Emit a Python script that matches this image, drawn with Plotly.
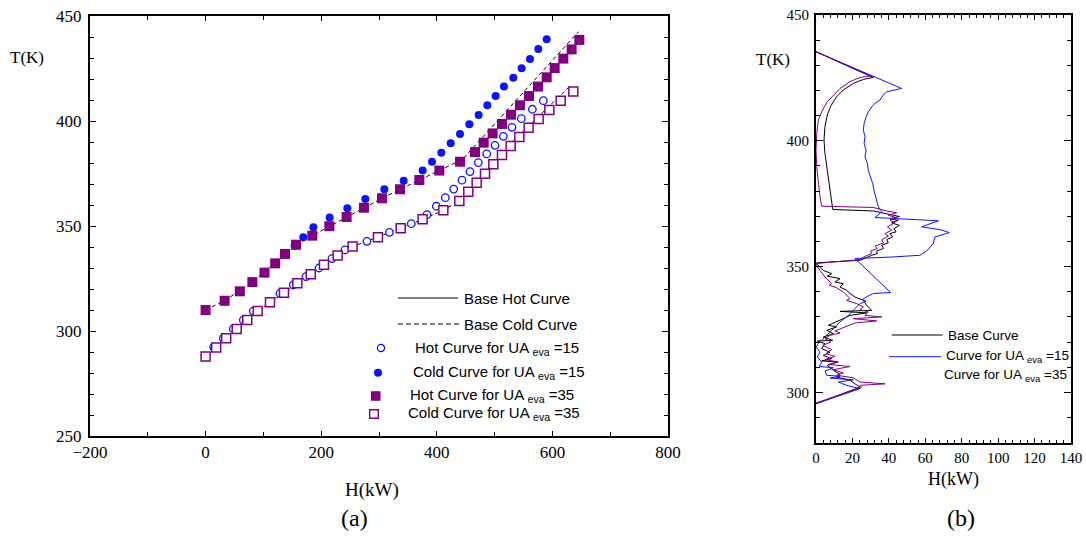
import plotly.graph_objects as go

# ---------------- data : panel (a) ----------------
hot15_H = [0, 14, 30.6, 47.9, 65.2, 82.5, 111.4, 128.7, 151.7, 173.7, 196.2, 218.7, 241.2, 279.2, 317.9,
           355.9, 383.0, 399.2, 414.7, 429.2, 443.6, 457.4, 471.8, 486.3, 500.7, 515.1, 530.1, 546.2, 565.3, 584.3]
hot15_T = [288, 292.3, 296.5, 301.0, 305.2, 309.5, 313.9, 317.9, 321.9, 325.9, 330.0, 334.5, 338.6, 342.7, 347.0,
           351.1, 355.4, 359.4, 363.5, 367.6, 371.8, 375.9, 380.2, 384.3, 388.4, 392.7, 397.0, 401.1, 405.6, 409.7]

cold15_H = [0, 33, 59, 81, 102, 120, 137, 154, 169.1, 186.4, 214.6, 245.2, 276.3, 309.2, 342.7, 375.5,
            391.7, 407.8, 424.0, 440.1, 456.3, 472.4, 487.4, 501.8, 516.2, 532.4, 546.8, 561.2, 575.6, 590.1]
cold15_T = [309.6, 314.1, 318.6, 323.0, 327.5, 331.9, 336.3, 340.6, 344.6, 349.4, 354.1, 358.4, 362.9, 367.5, 371.6, 376.4,
            380.6, 384.9, 389.4, 393.8, 398.4, 402.9, 407.5, 411.9, 416.4, 420.6, 425.1, 429.5, 434.3, 438.9]

hot35_H = [0, 32.9, 59.2, 80.9, 101.9, 120.4, 137.4, 156.5, 184.6, 214.1, 244.0, 274.0, 305.2, 336.3, 369.8,
           404.4, 440.1, 466.1, 481.1, 496.6, 512.8, 528.4, 543.9, 559.5, 575.1, 590.1, 603.9, 618.9, 633.3, 646.6]
hot35_T = [310.0, 314.4, 318.9, 323.3, 327.8, 332.2, 336.7, 341.1, 345.4, 349.9, 354.3, 358.7, 363.2, 367.5, 371.9,
           376.4, 380.6, 385.2, 389.7, 394.1, 398.6, 403.0, 407.5, 411.9, 416.4, 420.8, 425.2, 429.7, 434.1, 438.6]

cold35_H = [0, 18.3, 35.6, 53.8, 72.1, 90.1, 111.4, 135.6, 158.7, 182.0, 204.8, 228.5, 254.4, 298.2, 337.5,
            375.5, 411.3, 439.0, 454.5, 469.0, 483.4, 497.8, 512.8, 527.8, 542.8, 558.9, 576.2, 594.7, 614.3, 636.2]
cold35_T = [287.8, 292.2, 296.5, 300.9, 305.2, 309.5, 313.7, 318.2, 322.7, 327.0, 331.5, 335.9, 340.2, 344.6, 348.9,
            353.2, 357.5, 361.9, 366.3, 370.6, 374.9, 379.4, 383.8, 388.1, 392.4, 396.8, 400.9, 405.2, 409.7, 414.1]

base_hot_H = [0, 32.9, 80.9, 137.4, 156.5, 184.6, 244.0, 305.2, 369.8, 404.4, 444.0, 475.0, 645.0]
base_hot_T = [310.0, 314.4, 323.3, 336.7, 341.1, 345.4, 354.3, 363.2, 371.9, 376.4, 381.6, 391.0, 442.5]

base_cold_H = [0, 18.3, 53.8, 90.1, 111.4, 135.6, 158.7, 182.0, 204.8, 228.5, 254.4, 298.2, 337.5, 375.5, 411.3, 439.0, 527.0, 629.3]
base_cold_T = [287.8, 292.2, 300.9, 309.5, 313.7, 318.2, 322.7, 327.0, 331.5, 335.9, 340.2, 344.6, 348.9, 353.2, 357.5, 361.9, 389.0, 416.4]

# ---------------- data : panel (b) ----------------
base_dH = [0, 31.5, 26.0, 20.5, 15.0, 11.3, 8.1, 6.2, 4.9, 4.4, 4.9, 5.9, 6.8, 8.1, 8.8, 9.2, 31.5, 38.8,
           45.8, 40.6, 45.2, 41.5, 45.8, 42.8, 43.9, 40.6, 42.1, 38.8, 39.7, 36.1, 37.0, 33.3, 33.7, 30.6, 27.8, 24.2,
           0.4, 1.8, 4.0, 8.6, 6.2, 13.2, 10.4, 15.0, 13.2, 16.8, 18.7, 21.4, 26.0, 27.8, 30.6, 13.2, 27.8, 18.7,
           15.0, 11.3, 6.8, 11.3, 5.9, 9.5, 4.0, 9.2, 0.7, 4.9, 3.1, 7.7, 4.0, 8.6, 3.1, 11.7, 6.2, 9.5, 13.2, 11.3,
           18.7, 21.4, 24.2, 0]
base_dT = [435.4, 425.2, 424.4, 422.8, 420.2, 417.5, 413.8, 410.2, 405.6, 400.3, 395.0, 389.7, 384.4, 379.0, 375.1, 372.7, 372.1, 371.1,
           369.9, 369.0, 368.4, 367.4, 366.4, 365.1, 363.8, 363.1, 361.8, 360.7, 359.4, 358.5, 357.2, 356.2, 355.2, 354.5, 353.6, 352.5,
           351.5, 349.9, 348.5, 347.2, 346.2, 345.2, 343.9, 343.2, 341.9, 340.6, 339.3, 337.9, 336.6, 334.6, 332.6, 332.2, 331.6, 330.6,
           329.3, 328.0, 326.7, 326.0, 324.7, 323.3, 322.0, 320.7, 320.4, 319.4, 317.4, 316.0, 314.7, 313.4, 312.5, 312.1, 310.7, 308.8, 307.2, 306.1,
           304.8, 303.4, 302.1, 295.5]

ua15_dH = [0, 47.0, 38.8, 37.0, 35.1, 32.4, 30.6, 28.7, 27.5, 26.4, 26.0, 26.9, 26.4, 27.5, 26.9, 28.2, 28.7, 30.0,
           31.1, 31.8, 32.9, 34.2, 36.1, 32.4, 67.2, 58.0, 68.1, 73.2, 65.3, 64.4, 60.8, 57.1, 41.5, 21.4,
           41.0, 31.5, 27.5, 25.6, 27.5, 24.2, 21.4, 17.8, 13.2, 9.5, 6.2, 3.1, 1.3, 0, 2.2, 0.7, 3.1, 1.8,
           9.5, 4.9, 5.9, 13.2, 7.7, 20.5, 12.3, 16.8, 24.2, 0]
ua15_dT = [435.4, 420.8, 419.5, 418.2, 416.2, 414.9, 413.5, 411.5, 409.5, 406.9, 404.2, 401.6, 398.9, 396.3, 393.6, 391.0, 388.3, 385.7,
           383.0, 380.4, 377.7, 373.7, 371.8, 369.5, 368.2, 365.8, 364.7, 363.5, 361.8, 359.2, 356.2, 354.5, 353.8, 353.2,
           339.7, 339.3, 337.9, 336.9, 336.2, 335.3, 333.3, 330.6, 328.0, 325.3, 322.7, 320.7, 319.4, 318.0, 316.0, 314.1, 312.1, 310.3,
           309.8, 308.5, 306.8, 306.4, 305.7, 305.0, 304.1, 302.8, 301.5, 295.5]

ua35_dH = [0, 29.6, 24.2, 18.7, 13.2, 9.5, 6.2, 3.1, 1.3, 0.4, 0, 0.4, 1.3, 2.2, 3.1, 31.5, 38.8,
           44.3, 39.7, 43.9, 40.6, 43.4, 39.2, 41.5, 37.9, 39.7, 36.1, 37.0, 32.4, 33.7, 30.0, 30.6, 26.9, 24.2,
           0, 0.7, 2.2, 4.9, 8.6, 7.3, 11.3, 15.0, 18.7, 16.8, 22.3, 26.0, 24.2, 28.7, 26.9, 36.1, 20.5, 33.3, 21.4,
           13.2, 10.4, 13.2, 7.7, 4.9, 8.1, 3.7, 8.6, 5.5, 10.4, 4.9, 12.3, 6.8, 18.7, 9.5, 15.0, 11.3, 20.5, 24.2,
           37.9, 24.2, 25.1, 0]
ua35_dT = [435.4, 425.7, 425.2, 423.5, 420.8, 418.2, 415.5, 411.5, 408.2, 402.9, 396.3, 389.7, 383.0, 377.7, 374.0, 373.5, 372.1,
           371.4, 370.4, 369.5, 368.4, 367.4, 365.8, 364.5, 363.1, 362.1, 360.7, 359.4, 358.1, 357.2, 356.2, 355.2, 354.1, 352.8,
           351.2, 349.9, 348.5, 345.9, 343.2, 342.6, 341.6, 339.9, 337.3, 336.6, 335.3, 334.0, 332.9, 332.0, 330.6, 330.0, 329.3, 328.4, 327.6,
           325.3, 324.4, 323.6, 322.7, 321.4, 320.0, 318.7, 317.0, 315.4, 314.3, 313.0, 312.1, 311.1, 310.3, 309.0, 307.7, 306.8, 305.8, 304.1,
           303.4, 302.8, 301.9, 295.8]

# ---------------- styling ----------------
W, H = 1086, 536
BLUE = "#0a14ff"
PURPLE = "#800080"
SERIF = "Liberation Serif, Times New Roman, serif"
SANS = "Liberation Sans, Arial, sans-serif"


def fx(p):
    return p / W


def fy(p):
    return 1 - p / H


fig = go.Figure()

# panel (a)
fig.add_trace(go.Scatter(x=base_hot_H, y=base_hot_T, mode="lines", name="Base Hot Curve",
                         line=dict(color="black", width=1, dash="4px,3px"), xaxis="x", yaxis="y"))
fig.add_trace(go.Scatter(x=base_cold_H, y=base_cold_T, mode="lines", name="Base Cold Curve",
                         line=dict(color="black", width=1, dash="4px,3px"), xaxis="x", yaxis="y"))
fig.add_trace(go.Scatter(x=cold15_H, y=cold15_T, mode="markers", name="Cold Curve for UA eva=15",
                         marker=dict(symbol="circle", size=8, color=BLUE, line=dict(width=0)), xaxis="x", yaxis="y"))
fig.add_trace(go.Scatter(x=hot15_H, y=hot15_T, mode="markers", name="Hot Curve for UA eva=15",
                         marker=dict(symbol="circle", size=7.5, color="white", line=dict(color=BLUE, width=1.3)),
                         xaxis="x", yaxis="y"))
fig.add_trace(go.Scatter(x=hot35_H, y=hot35_T, mode="markers", name="Hot Curve for UA eva=35",
                         marker=dict(symbol="square", size=10, color=PURPLE, line=dict(width=0)), xaxis="x", yaxis="y"))
fig.add_trace(go.Scatter(x=cold35_H, y=cold35_T, mode="markers", name="Cold Curve for UA eva=35",
                         marker=dict(symbol="square", size=9, color="white", line=dict(color=PURPLE, width=1.5)),
                         xaxis="x", yaxis="y"))

# panel (b)
fig.add_trace(go.Scatter(x=base_dH, y=base_dT, mode="lines", name="Base Curve",
                         line=dict(color="black", width=1), xaxis="x2", yaxis="y2"))
fig.add_trace(go.Scatter(x=ua15_dH, y=ua15_dT, mode="lines", name="Curve for UA eva=15",
                         line=dict(color=BLUE, width=1), xaxis="x2", yaxis="y2"))
fig.add_trace(go.Scatter(x=ua35_dH, y=ua35_dT, mode="lines", name="Curve for UA eva=35",
                         line=dict(color=PURPLE, width=1), xaxis="x2", yaxis="y2"))

axis_common = dict(showline=True, linecolor="black", linewidth=2, mirror="ticks", ticks="inside",
                   tickcolor="black", tickwidth=1, showgrid=False, zeroline=False, automargin=False)

fig.update_layout(
    width=W, height=H,
    margin=dict(l=0, r=0, t=0, b=0, autoexpand=False),
    paper_bgcolor="white", plot_bgcolor="white",
    showlegend=False,
    xaxis=dict(domain=[fx(90), fx(668)], range=[-200, 800], anchor="y", tick0=0, dtick=200, ticklen=5,
               minor=dict(dtick=100, ticks="inside", ticklen=4, tickcolor="black"),
               tickfont=dict(family=SERIF, size=17, color="black"), ticklabelstandoff=0, **axis_common),
    yaxis=dict(domain=[fy(436), fy(16)], range=[250, 450], anchor="x", tick0=0, dtick=50, ticklen=6,
               minor=dict(dtick=10, ticks="inside", ticklen=4, tickcolor="black"),
               tickfont=dict(family=SERIF, size=17, color="black"), ticklabelstandoff=3, **axis_common),
    xaxis2=dict(domain=[fx(816), fx(1071)], range=[0, 140], anchor="y2", tick0=0, dtick=20, ticklen=5,
                minor=dict(dtick=4, ticks="inside", ticklen=3, tickcolor="black"),
                tickfont=dict(family=SERIF, size=15, color="black"), ticklabelstandoff=0, **axis_common),
    yaxis2=dict(domain=[fy(442.7), fy(15)], range=[280, 450], anchor="x2", tick0=0, dtick=50, ticklen=7,
                minor=dict(dtick=10, ticks="inside", ticklen=4, tickcolor="black"),
                tickfont=dict(family=SERIF, size=15, color="black"), ticklabelstandoff=2, **axis_common),
)

ann = []


def text(x, y, s, size, family=SERIF, xanchor="center"):
    ann.append(dict(x=fx(x), y=fy(y), xref="paper", yref="paper", text=s, showarrow=False,
                    xanchor=xanchor, yanchor="middle", font=dict(family=family, size=size, color="black")))


# axis titles / captions
text(27, 57, "T(K)", 17)
text(372, 490, "H(kW)", 19)
text(354, 518, "(a)", 24)
text(773, 60, "T(K)", 17)
text(953, 479, "H(kW)", 18)
text(961, 518, "(b)", 24)

# legend (a)
text(462, 298, "Base Hot Curve", 15, SANS, "left")
text(462, 324, "Base Cold Curve", 15, SANS, "left")
text(413, 348, "Hot Curve for UA <sub>eva</sub> =15", 15, SANS, "left")
text(411, 372.5, "Cold Curve for UA <sub>eva</sub> =15", 15, SANS, "left")
text(408, 395, "Hot Curve for UA <sub>eva</sub> =35", 15, SANS, "left")
text(406, 413, "Cold Curve for UA <sub>eva</sub> =35", 15, SANS, "left")

# legend (b)
text(946, 335, "Base Curve", 13.5, SANS, "left")
text(944, 356.5, "Curve for UA <sub>eva</sub> =15", 13.5, SANS, "left")
text(942, 375, "Curve for UA <sub>eva</sub> =35", 13.5, SANS, "left")

shapes = []


def key_line(x0, x1, y, color="black", dash="solid"):
    shapes.append(dict(type="line", xref="paper", yref="paper", x0=fx(x0), x1=fx(x1), y0=fy(y), y1=fy(y),
                       line=dict(color=color, width=1, dash=dash)))


def key_marker(x, y, kind, r, fill, edge, lw):
    shapes.append(dict(type=kind, xref="paper", yref="paper", xsizemode="pixel", ysizemode="pixel",
                       xanchor=fx(x), yanchor=fy(y), x0=-r, x1=r, y0=-r, y1=r,
                       fillcolor=fill, line=dict(color=edge, width=lw)))


key_line(398, 458, 298)
key_line(398, 460, 324, dash="5px,3px")
key_marker(381, 348, "circle", 3.6, "white", BLUE, 1.3)
key_marker(378, 372.7, "circle", 4, BLUE, BLUE, 0)
key_marker(375.7, 396, "rect", 4.8, PURPLE, PURPLE, 0)
key_marker(374, 414, "rect", 4.3, "white", PURPLE, 1.4)

key_line(891.7, 942.7, 335)
key_line(889, 941, 356.7, color=BLUE)

fig.update_layout(annotations=ann, shapes=shapes)
fig.write_html("out.html")
